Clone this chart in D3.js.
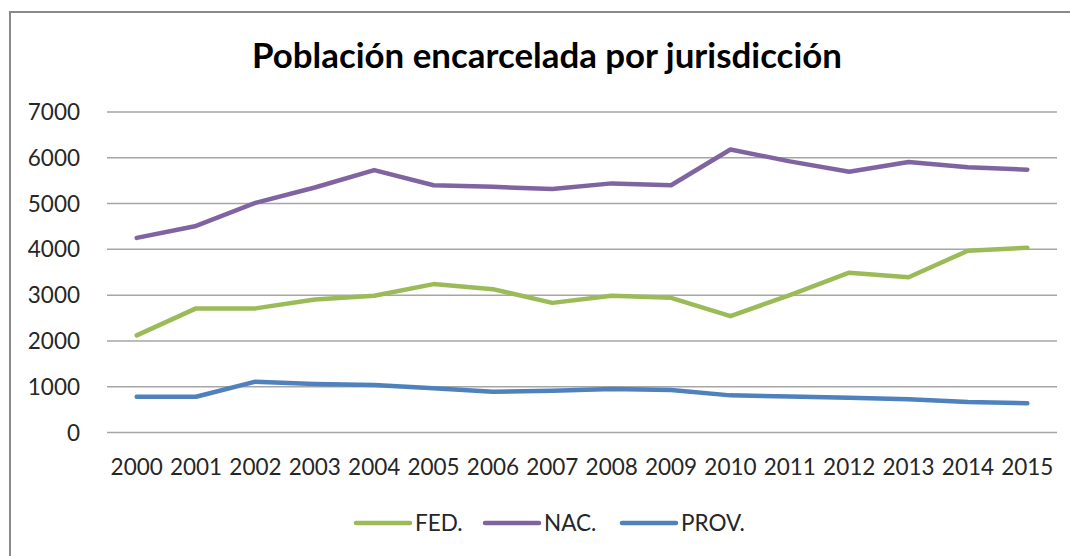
<!DOCTYPE html>
<html>
<head>
<meta charset="utf-8">
<script src="https://cdn.jsdelivr.net/npm/d3@7"></script>
<style>
  body { margin: 0; background: #fff; }
  svg { display: block; }
  text { font-family: Lato, "Open Sans", sans-serif; fill: #262626; }
</style>
</head>
<body>
<div id="chart"></div>
<script>
// data
const years = ["2000","2001","2002","2003","2004","2005","2006","2007",
               "2008","2009","2010","2011","2012","2013","2014","2015"];
const fed  = [2110, 2700, 2700, 2895, 2975, 3230, 3120, 2820, 2975, 2930, 2530, 2990, 3480, 3380, 3960, 4025];
const nac  = [4240, 4500, 5005, 5340, 5720, 5390, 5355, 5305, 5430, 5390, 6170, 5910, 5685, 5895, 5780, 5730];
const prov = [770, 770, 1100, 1050, 1025, 955, 880, 900, 940, 915, 800, 775, 750, 715, 655, 630];
const yTicks = [0, 1000, 2000, 3000, 4000, 5000, 6000, 7000];

const series = [
  { name: "FED.",  values: fed,  color: "#9BBB59" },
  { name: "NAC.",  values: nac,  color: "#8064A2" },
  { name: "PROV.", values: prov, color: "#4F81BD" }
];

const W = 1070, H = 556;
const plot = { left: 107, right: 1057, top: 111.5, bottom: 432 };

const svg = d3.select("#chart").append("svg")
  .attr("width", W)
  .attr("height", H);

// chart frame
svg.append("rect")
  .attr("x", 10).attr("y", 12)
  .attr("width", W + 20).attr("height", H + 20)
  .attr("fill", "#fff")
  .attr("stroke", "#8a8a8a")
  .attr("stroke-width", 2);

// title
const title = svg.append("text")
  .attr("x", 547).attr("y", 68)
  .attr("text-anchor", "middle")
  .style("font-weight", "bold")
  .style("font-size", "30px")
  .style("fill", "#000")
  .text("Población encarcelada por jurisdicción");
const tw = title.node().getComputedTextLength();
title.style("font-size", (30 * 590 / tw) + "px");

const x = d3.scaleBand()
  .domain(years)
  .range([plot.left, plot.right]);

const y = d3.scaleLinear()
  .domain([0, 7000])
  .range([plot.bottom, plot.top]);

// Y axis with gridlines
const yAxis = svg.append("g")
  .attr("transform", "translate(" + plot.left + ",0)")
  .call(d3.axisLeft(y).tickValues(yTicks)
    .tickSize(-(plot.right - plot.left))
    .tickPadding(27)
    .tickFormat(d3.format("d")));
yAxis.select(".domain").remove();
yAxis.selectAll("line")
  .attr("stroke", "#a6a6a6")
  .attr("stroke-width", 1.5);
yAxis.selectAll("text")
  .style("font-size", "22.5px")
  .attr("dy", "0.36em");

// X axis labels
const xAxis = svg.append("g")
  .attr("transform", "translate(0," + plot.bottom + ")")
  .call(d3.axisBottom(x).tickSize(0).tickPadding(0));
xAxis.select(".domain").remove();
xAxis.selectAll("text")
  .style("font-size", "22.5px")
  .attr("dy", 0)
  .attr("y", 43);

// lines
const line = d3.line()
  .x((d, i) => x(years[i]) + x.bandwidth() / 2)
  .y(d => y(d));

svg.append("g").selectAll("path")
  .data(series)
  .enter()
  .append("path")
  .attr("d", d => line(d.values))
  .attr("fill", "none")
  .attr("stroke", d => d.color)
  .attr("stroke-width", 4.5)
  .attr("stroke-linejoin", "round")
  .attr("stroke-linecap", "round");

// legend
const legendX = [356, 485, 622];
const legend = svg.append("g").selectAll("g")
  .data(series)
  .enter()
  .append("g")
  .attr("transform", (d, i) => "translate(" + legendX[i] + ",523)");
legend.append("line")
  .attr("x1", 0).attr("x2", 54)
  .attr("stroke", d => d.color)
  .attr("stroke-width", 4.5)
  .attr("stroke-linecap", "round");
legend.append("text")
  .attr("x", 59)
  .attr("dy", "0.36em")
  .style("font-size", "22.5px")
  .text(d => d.name);
</script>
</body>
</html>
